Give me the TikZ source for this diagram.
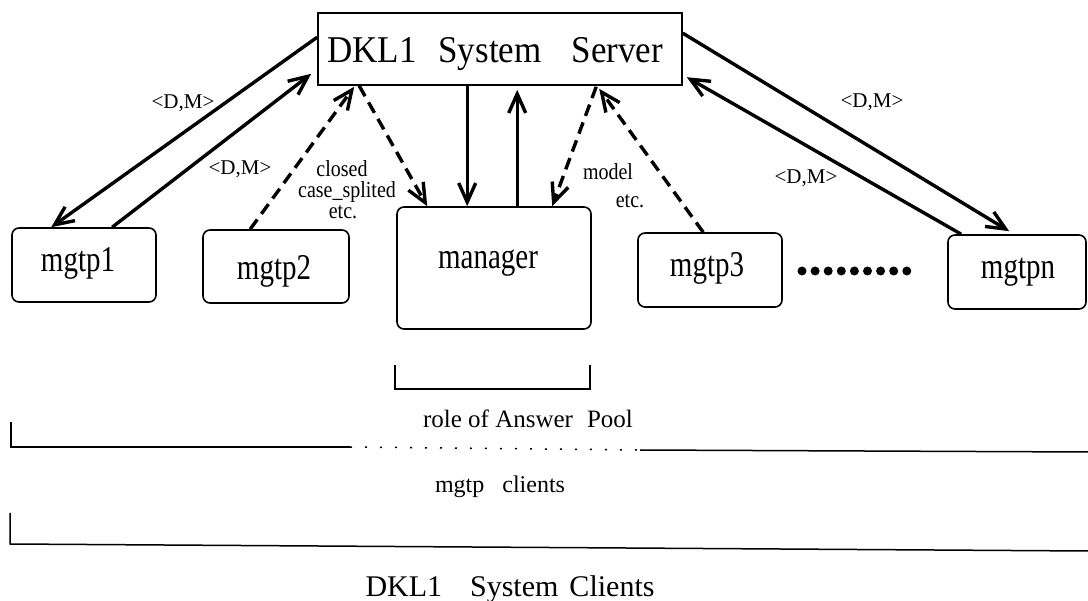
\documentclass[tikz,border=0pt]{standalone}
\usepackage{fontspec}
\usepackage{graphicx}
\setmainfont{Liberation Serif}
\usetikzlibrary{arrows.meta,calc}

\newcommand{\fs}[1]{\fontsize{#1}{#1}\selectfont}
\newcommand{\tall}[2]{\scalebox{1}[#1]{#2}}

\begin{document}
\begin{tikzpicture}[x=1pt,y=-1pt,
  sharpbox/.style={draw,line width=1.6pt,inner sep=0pt},
  client/.style={draw,line width=1.6pt,rounded corners=7pt,inner sep=0pt},
  boxlbl/.style={anchor=base,inner sep=0pt,font=\fs{29}},
  msg/.style={inner sep=0pt,font=\fs{21}},
  note/.style={anchor=base,inner sep=0pt,font=\fs{20}},
  caption/.style={anchor=base,inner sep=0pt},
  flow/.style={line width=3.4pt,-{Straight Barb[length=19pt,width=17pt]}},
  dflow/.style={flow,dash pattern=on 12pt off 7pt},
  brace/.style={line width=1.5pt}
]
\fill[white] (0,0) rectangle (1088,601);
\useasboundingbox (0,0) rectangle (1088,601);

% server and client boxes
\node[sharpbox,minimum width=364pt,minimum height=72pt] (srv) at (500,49) {};
\node[caption,font=\fs{35}] (srvt) at (495,63) {\tall{1.08}{DKL1\hspace{22pt}System\hspace{30pt}Server}};

\node[client,minimum width=144pt,minimum height=74pt] (m1) at (84,265) {};
\node[boxlbl] (m1t) at (78,272) {\tall{1.25}{mgtp1}};
\node[client,minimum width=146pt,minimum height=73pt] (m2) at (276,266.5) {};
\node[boxlbl] (m2t) at (274,280) {\tall{1.25}{mgtp2}};
\node[client,minimum width=194pt,minimum height=122pt] (mg) at (494,268) {};
\node[boxlbl] (mgt) at (488,269) {\tall{1.25}{manager}};
\node[client,minimum width=144pt,minimum height=74pt] (m3) at (710,270) {};
\node[boxlbl] (m3t) at (707,277) {\tall{1.25}{mgtp3}};
\node[client,minimum width=138pt,minimum height=74pt] (mn) at (1017,272) {};
\node[boxlbl] (mnt) at (1018,279) {\tall{1.25}{mgtpn}};

% row of dots between mgtp3 and mgtpn
\foreach \i in {0,...,8}
  \fill (802+\i*13.1,271) circle (4.5pt);

% message flows
\draw[flow] ($(srv.north west)+(0,25)$) -- ($(m1.north west)+(40,0)$);
\draw[flow] ($(m1.north west)+(101,0)$) -- ($(srv.south west)+(-6,-12)$);
\draw[dflow] ($(m2.north west)+(48,0)$) -- ($(srv.south west)+(37,1)$);
\draw[dflow] ($(srv.south west)+(42,0)$) -- ($(mg.north west)+(31,0)$);
\draw[flow] ($(srv.south west)+(150,0)$) -- ($(mg.north west)+(71,0)$);
\draw[flow] ($(mg.north west)+(121,0)$) -- ($(srv.south west)+(200,4)$);
\draw[dflow] ($(srv.south west)+(279,1)$) -- ($(mg.north west)+(156,0)$);
\draw[dflow] ($(m3.north west)+(66,0)$) -- ($(srv.south west)+(282,3)$);
\draw[flow] ($(srv.north east)+(0,21)$) -- ($(mn.north west)+(62,-3)$);
\draw[flow] ($(mn.north west)+(14,0)$) -- ($(srv.north east)+(4,65)$);

% flow labels
\node[msg] (dm1) at (183,103) {<D,M>};
\node[msg] (dm2) at (240,169) {<D,M>};
\node[msg] (dm3) at (872,102) {<D,M>};
\node[msg] (dm4) at (806,178) {<D,M>};
\node[note] (cl1) at (342,177) {\tall{1.15}{closed}};
\node[note] (cl2) at (347,198) {\tall{1.15}{case\_splited}};
\node[note] (cl3) at (343,219) {\tall{1.15}{etc.}};
\node[note] (md1) at (608,180) {\tall{1.15}{model}};
\node[note] (md2) at (630,208) {\tall{1.15}{etc.}};

% grouping brackets
\coordinate (ap1) at (395,365);
\coordinate (ap2) at (395,389);
\coordinate (ap3) at (590,389);
\coordinate (ap4) at (590,365);
\draw[brace] (ap1) -- (ap2) -- (ap3) -- (ap4);
\node[caption,font=\fs{25}] (apt) at (528,428) {role of Answer\hspace{14pt}Pool};

\coordinate (mc1) at (11,422);
\coordinate (mc2) at (11,447);
\coordinate (mc3) at (350,447);
\coordinate (mc4) at (640,450);
\coordinate (mc5) at (1088,452);
\draw[brace] (mc1) -- (mc2) -- (mc3);
\draw[line width=1.5pt,dash pattern=on 2pt off 13pt] (mc3) -- (mc4);
\draw[brace] (mc4) -- (mc5);
\node[caption,font=\fs{24}] (mct) at (500,493) {mgtp\hspace{18pt}clients};

\coordinate (sc1) at (10,513);
\coordinate (sc2) at (10,544);
\coordinate (sc3) at (1088,551);
\draw[brace] (sc1) -- (sc2) -- (sc3);
\node[caption,font=\fs{30}] (sct) at (510,596) {DKL1\hspace{28pt}System\hspace{11pt}Clients};
\end{tikzpicture}
\end{document}
